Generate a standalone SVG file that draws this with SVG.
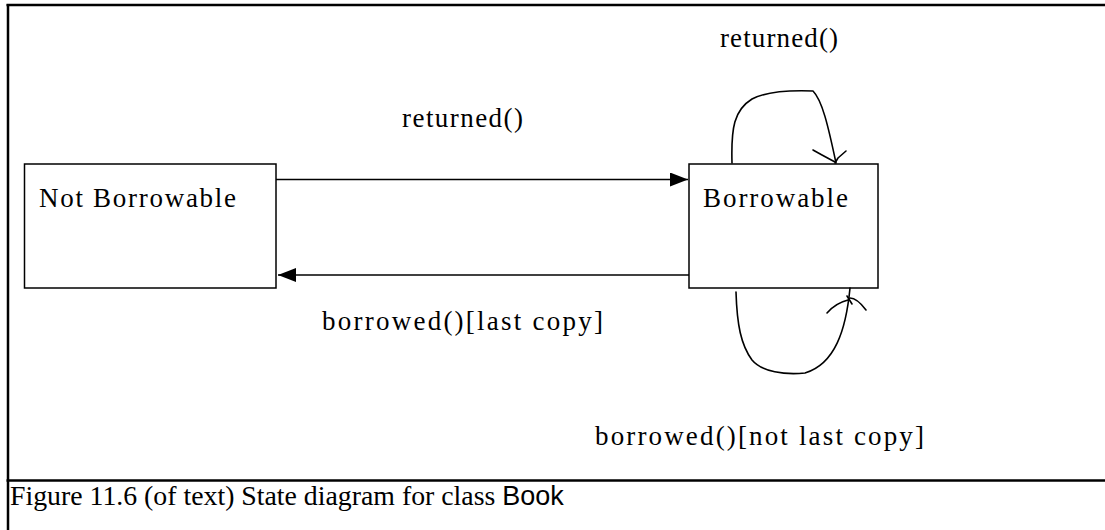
<svg xmlns="http://www.w3.org/2000/svg" width="1105" height="530" viewBox="0 0 1105 530">
<defs>
<style>
.frame{stroke:#000;stroke-width:2.5;fill:none}
.box{stroke:#000;stroke-width:1.5;fill:#fff}
.lbl{font-family:"Liberation Serif","Times New Roman",serif;font-size:27px;fill:#000}
.conn{stroke:#000;stroke-width:1.5;fill:none}
.hand{stroke:#000;stroke-width:1.6;fill:none;stroke-linecap:round;stroke-linejoin:round}
.cap{font-family:"Liberation Serif","Times New Roman",serif;font-size:27.8px;fill:#000}
.capb{font-family:"Liberation Sans",Arial,sans-serif;font-size:27px}
</style>
<marker id="tri" viewBox="0 0 18 14" refX="18" refY="7" markerWidth="18" markerHeight="14" markerUnits="userSpaceOnUse" orient="auto">
<path d="M0,0 L18,7 L0,14 Z" fill="#000"/>
</marker>
</defs>
<rect width="1105" height="530" fill="#fff"/>
<g id="frame">
<line class="frame" x1="6.5" y1="5" x2="1105" y2="5"/>
<line class="frame" x1="8" y1="4" x2="8" y2="530"/>
<line class="frame" x1="6.5" y1="480.5" x2="1105" y2="480.5"/>
</g>
<g id="not-borrowable">
<rect class="box" x="24.5" y="164" width="251.5" height="124"/>
<text class="lbl" x="39" y="207" textLength="197" lengthAdjust="spacing">Not Borrowable</text>
</g>
<g id="borrowable">
<rect class="box" x="689" y="164" width="189" height="124"/>
<text class="lbl" x="703" y="207" textLength="145" lengthAdjust="spacing">Borrowable</text>
</g>
<g id="connectors">
<line class="conn" x1="276" y1="179.5" x2="688" y2="179.5" marker-end="url(#tri)"/>
<line class="conn" x1="689" y1="275" x2="278" y2="275" marker-end="url(#tri)"/>
<path class="hand" d="M732,163 C731,128 734,110 752,99 C765,92 785,90 813,91 C822,100 828,125 836,163"/>
<path class="hand" d="M813,150 L822,155 L835,162 M846,151 L838,158 L835,163"/>
<path class="hand" d="M736,292 C737,325 741,345 752,360 C762,372 785,375 805,373 C835,364 846,330 850,288"/>
<path class="hand" d="M827,313 C833,306 840,302 848,300 M866,310 C860,302 855,298 850,298 M847,296 L852,304"/>
</g>
<g id="labels">
<text class="lbl" x="402" y="127" textLength="121" lengthAdjust="spacing">returned()</text>
<text class="lbl" x="720" y="47" textLength="118" lengthAdjust="spacing">returned()</text>
<text class="lbl" x="322" y="330" textLength="281" lengthAdjust="spacing">borrowed()[last copy]</text>
<text class="lbl" x="595" y="445" textLength="329" lengthAdjust="spacing">borrowed()[not last copy]</text>
</g>
<g id="caption">
<text class="cap" x="10" y="505">Figure 11.6 (of text) State diagram for class <tspan class="capb">Book</tspan></text>
</g>
</svg>
